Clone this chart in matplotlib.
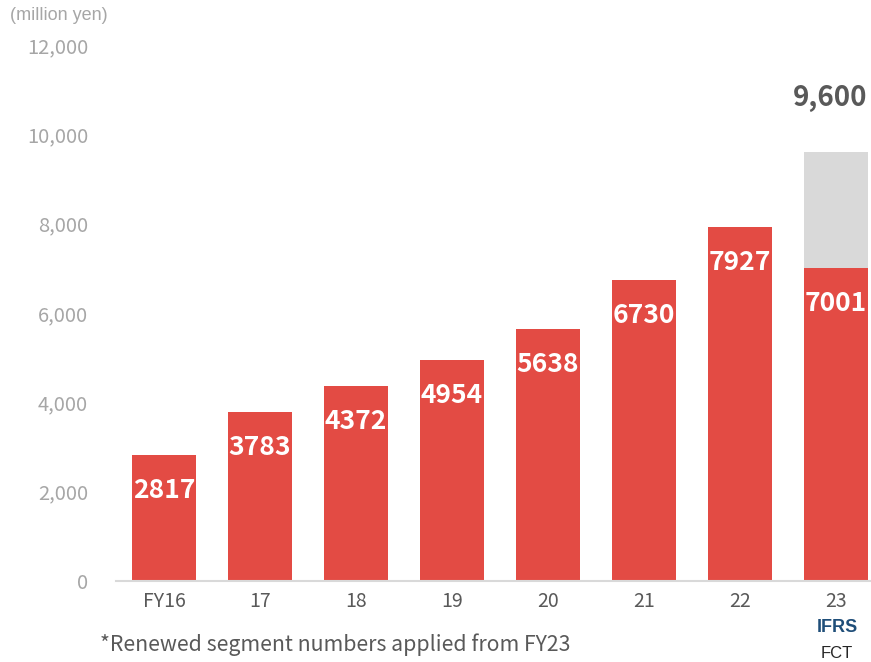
import matplotlib.pyplot as plt
import numpy as np

plt.rcParams['font.family'] = ['Noto Sans CJK JP', 'DejaVu Sans']

# Data
years = ['FY16', '17', '18', '19', '20', '21', '22', '23']
sales = [2817, 3783, 4372, 4954, 5638, 6730, 7927, 7001]
forecast_total = 9600
forecast_idx = 7
y_ticks = [0, 2000, 4000, 6000, 8000, 10000, 12000]

red = '#e34b44'
grey_bar = '#d9d9d9'
dark = '#595959'

fig = plt.figure(figsize=(8.71, 6.62), dpi=100)
ax = fig.add_axes([116 / 871, 1 - 581 / 662, 1 - 116 / 871, (581 - 45) / 662])

x = np.arange(len(years))
ax.bar(x, sales, width=0.667, color=red, zorder=2)
ax.bar(forecast_idx, forecast_total - sales[forecast_idx], bottom=sales[forecast_idx],
       width=0.667, color=grey_bar, zorder=2)

for xi, v in zip(x, sales):
    ax.annotate(str(v), (xi, v), xytext=(0, -25.5), textcoords='offset points',
                ha='center', va='center', color='white', fontsize=19, fontweight='bold')

ax.annotate(f'{forecast_total:,}', (forecast_idx, forecast_total), xytext=(-4, 39),
            textcoords='offset points', ha='center', va='center', color=dark,
            fontsize=20, fontweight='bold')

ax.set_xlim(-0.5, 7.5 - 13 / 96)
ax.set_ylim(0, 12000)
ax.set_yticks(y_ticks)
ax.set_yticklabels([f'{t:,}' for t in y_ticks], color='#a6a6a6', fontsize=14.5)
ax.set_xticks(x)
ax.set_xticklabels(years, color=dark, fontsize=14)
ax.tick_params(axis='both', length=0)
ax.tick_params(axis='x', pad=7)
ax.tick_params(axis='y', pad=20)

for s in ['top', 'right', 'left']:
    ax.spines[s].set_visible(False)
ax.spines['bottom'].set_color('#d9d9d9')
ax.spines['bottom'].set_linewidth(1.5)

fig.text(10 / 871, 1 - 15 / 662, '(million yen)', color='#a6a6a6', fontsize=13,
         family='Liberation Sans', ha='left', va='center')
fig.text(837.5 / 871, 1 - 628 / 662, 'IFRS', color='#1f4e79', fontsize=13,
         family='Liberation Sans', fontweight='bold', ha='center', va='center')
fig.text(836.5 / 871, 1 - 653 / 662, 'FCT', color='#262626', fontsize=12,
         family='Liberation Sans', ha='center', va='center')
fig.text(100 / 871, 1 - 645 / 662, '*Renewed segment numbers applied from FY23',
         color=dark, fontsize=15.3, ha='left', va='center')

fig.savefig('out.png', dpi=100)
